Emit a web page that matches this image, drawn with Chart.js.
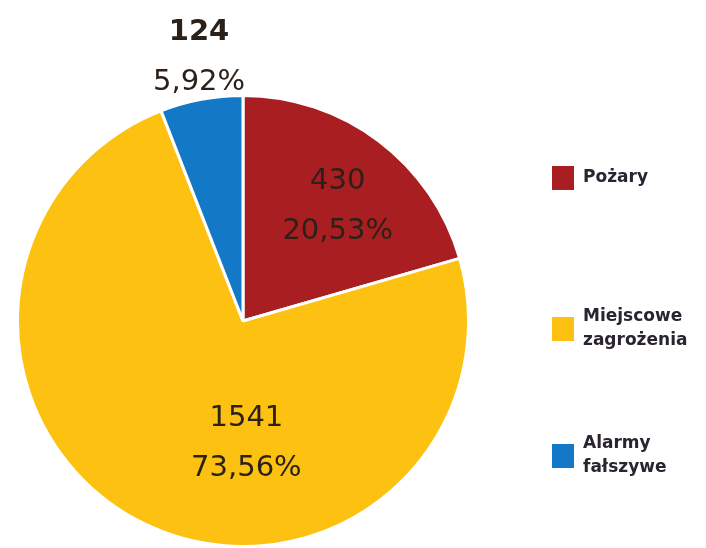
<!DOCTYPE html>
<html>
<head>
<meta charset="utf-8">
<script src="https://cdn.jsdelivr.net/npm/chart.js@4"></script>
<style>
  html, body { margin: 0; padding: 0; background: #fff; }
  #wrap { width: 706px; height: 548px; }
</style>
</head>
<body>
<div id="wrap"><canvas id="pie"></canvas></div>
<script>
// Data
const labels = [["Pożary"], ["Miejscowe", "zagrożenia"], ["Alarmy", "fałszywe"]];
const counts = [430, 1541, 124];
const percents = ["20,53%", "73,56%", "5,92%"];
const colors = ["#A91E20", "#FCC111", "#1378C6"];

// Value labels drawn on / next to each slice (offsets are in radius units from the pie centre)
const sliceLabels = {
  id: "sliceLabels",
  afterDatasetsDraw(chart, args, opts) {
    const ctx = chart.ctx;
    const meta = chart.getDatasetMeta(0);
    meta.data.forEach((arc, i) => {
      const p = opts.place[i];
      const x = arc.x + p.at[0] * arc.outerRadius;
      const y = arc.y + p.at[1] * arc.outerRadius;
      ctx.save();
      ctx.fillStyle = "#2b2119";
      ctx.textAlign = "center";
      ctx.textBaseline = "middle";
      ctx.font = (p.bold ? "bold " : "") + "29px 'DejaVu Sans'";
      ctx.fillText(String(counts[i]), x, y - 25);
      ctx.font = "29px 'DejaVu Sans'";
      ctx.fillText(percents[i], x, y + 25);
      ctx.restore();
    });
  },
};

// Legend on the right, drawn from labels / colors
const sideLegend = {
  id: "sideLegend",
  afterDraw(chart, args, opts) {
    const ctx = chart.ctx;
    ctx.save();
    opts.rows.forEach((rowY, i) => {
      ctx.fillStyle = colors[i];
      ctx.fillRect(opts.x, rowY - 12, 22, 24);
      ctx.fillStyle = "#2a2430";
      ctx.font = "bold 17px 'DejaVu Sans'";
      ctx.textBaseline = "middle";
      const lines = labels[i];
      const top = rowY - (lines.length - 1) * 12;
      lines.forEach((t, k) => ctx.fillText(t, opts.x + 31, top + k * 24));
    });
    ctx.restore();
  },
};

new Chart(document.getElementById("pie"), {
  type: "pie",
  data: {
    labels: labels.map((l) => l.join(" ")),
    datasets: [
      {
        data: counts,
        backgroundColor: colors,
        borderColor: "#ffffff",
        borderWidth: 3,
      },
    ],
  },
  options: {
    responsive: true,
    maintainAspectRatio: false,
    animation: false,
    layout: { padding: { left: 16, right: 236, top: 94, bottom: 0 } },
    plugins: {
      legend: { display: false },
      tooltip: { enabled: false },
      sliceLabels: {
        place: [
          { at: [0.42, -0.51] },
          { at: [0.015, 0.545] },
          { at: [-0.195, -1.17], bold: true },
        ],
      },
      sideLegend: { x: 552, rows: [178, 329, 456] },
    },
  },
  plugins: [sliceLabels, sideLegend],
});
</script>
</body>
</html>
